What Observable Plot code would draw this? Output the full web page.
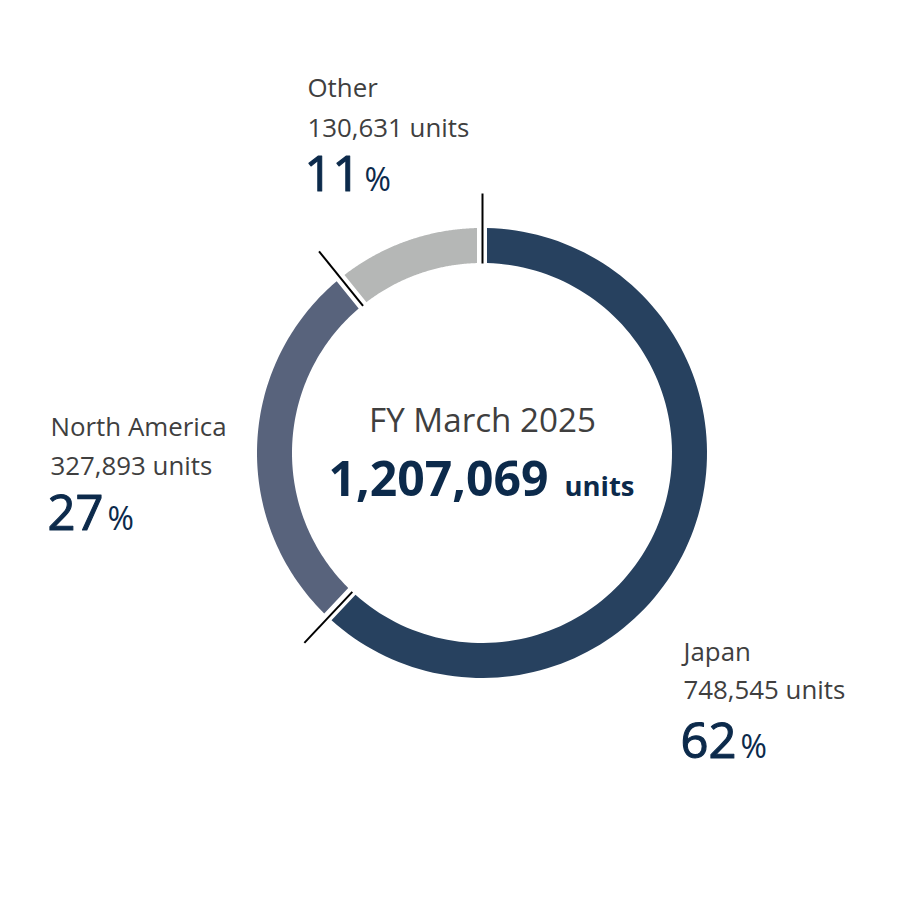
<!DOCTYPE html>
<html>
<head>
<meta charset="utf-8">
<script src="https://cdn.jsdelivr.net/npm/d3@7"></script>
<script src="https://cdn.jsdelivr.net/npm/@observablehq/plot@0.6"></script>
<style>
  html, body { margin: 0; padding: 0; background: #fff; }
  #chart { width: 908px; height: 908px; }
</style>
</head>
<body>
<div id="chart"></div>
<script>
// ---- Data ----
const regions = ["Japan", "North America", "Other"];
const units = [748545, 327893, 130631];
const shares = [62, 27, 11];
const totalUnits = 1207069;
const periodLabel = "FY March 2025";
const colors = ["#27415f", "#58637c", "#b5b7b6"];

// ---- Layout ----
const W = 908, H = 908;
const cx = 482, cy = 453;
const rInner = 190, rOuter = 225;
const halfGap = 5;
const tickIn = 190, tickOut = 260;
const FONT = "'Open Sans', 'Noto Sans', sans-serif";
const gray = "#3f3f3f", navy = "#0c2a4b";

const fmt = d3.format(",");
const pie = d3.pie().sort(null).value(d => d.units);
const rows = regions.map((r, i) => ({region: r, units: units[i], share: shares[i]}));
const arcs = pie(rows);

// ring polygons (outer edge / inner edge) for Plot.area
const ring = [];
for (const a of arcs) {
  const n = 120;
  const ao0 = a.startAngle + halfGap / rOuter, ao1 = a.endAngle - halfGap / rOuter;
  const ai0 = a.startAngle + halfGap / rInner, ai1 = a.endAngle - halfGap / rInner;
  for (let k = 0; k <= n; k++) {
    const t = k / n;
    const ao = ao0 + (ao1 - ao0) * t, ai = ai0 + (ai1 - ai0) * t;
    ring.push({
      region: a.data.region,
      xo: cx + rOuter * Math.sin(ao), yo: cy - rOuter * Math.cos(ao),
      xi: cx + rInner * Math.sin(ai), yi: cy - rInner * Math.cos(ai)
    });
  }
}

// boundary ticks
const ticks = arcs.map(a => a.startAngle).map(b => ({
  x1: cx + tickIn * Math.sin(b), y1: cy - tickIn * Math.cos(b),
  x2: cx + tickOut * Math.sin(b), y2: cy - tickOut * Math.cos(b)
}));

// text measurement / fitting
const ctx = document.createElement("canvas").getContext("2d");
function tw(s, size, weight) { ctx.font = `${weight} ${size}px ${FONT}`; return ctx.measureText(s).width; }
function fit(s, target, weight) { return 40 * target / tw(s, 40, weight); }

const labelSize = fit("130,631 units", 162, 400);
const pctWeight = 400;
const pctSize = fit("62", 56, pctWeight);
const pctSignSize = 32;
const periodSize = fit(periodLabel, 227, 400);
const totSize = fit(fmt(totalUnits), 220, 700);
const totUnitSize = fit("units", 70, 700);

const labelPos = {
  "Japan":         {x: 683, y: [660, 698, 757]},
  "North America": {x: 50,  y: [435, 474, 529]},
  "Other":         {x: 307, y: [96, 136, 190]}
};

const nameTexts = [], unitTexts = [], pctNums = [], pctSigns = [];
rows.forEach(d => {
  const p = labelPos[d.region];
  nameTexts.push({x: p.x, y: p.y[0], text: d.region});
  unitTexts.push({x: p.x, y: p.y[1], text: `${fmt(d.units)} units`});
  const num = String(d.share);
  pctNums.push({x: p.x - 3, y: p.y[2], text: num});
  pctSigns.push({x: p.x - 3 + tw(num, pctSize, pctWeight) + 4, y: p.y[2], text: "%"});
});

// centre label
const totalStr = fmt(totalUnits);
const totGap = 16;
const wNum = tw(totalStr, totSize, 700), wUnit = tw("units", totUnitSize, 700);
const totStart = 481 - (wNum + totGap + wUnit) / 2;

const textBase = {fontFamily: FONT, lineAnchor: "bottom", textAnchor: "start"};

const chart = Plot.plot({
  width: W, height: H, margin: 0,
  x: {domain: [0, W], range: [0, W], axis: null},
  y: {domain: [0, H], range: [0, H], axis: null},
  color: {domain: regions, range: colors},
  style: {background: "#fff", overflow: "visible"},
  marks: [
    Plot.area(ring, {x1: "xo", y1: "yo", x2: "xi", y2: "yi", z: "region", fill: "region", curve: "linear"}),
    Plot.link(ticks, {x1: "x1", y1: "y1", x2: "x2", y2: "y2", stroke: "#000", strokeWidth: 2}),
    Plot.text(nameTexts, {...textBase, x: "x", y: "y", text: "text", fontSize: labelSize, fill: gray}),
    Plot.text(unitTexts, {...textBase, x: "x", y: "y", text: "text", fontSize: labelSize, fill: gray}),
    Plot.text(pctNums, {...textBase, x: "x", y: "y", text: "text", fontSize: pctSize, fontWeight: pctWeight, fill: navy, stroke: navy, strokeWidth: 1.1, paintOrder: "fill"}),
    Plot.text(pctSigns, {...textBase, x: "x", y: "y", text: "text", fontSize: pctSignSize, fill: navy}),
    Plot.text([periodLabel], {...textBase, x: () => 482, y: () => 431, text: d => d, textAnchor: "middle", fontSize: periodSize, fill: gray}),
    Plot.text([totalStr], {...textBase, x: () => totStart, y: () => 495, text: d => d, fontSize: totSize, fontWeight: 700, fill: navy}),
    Plot.text(["units"], {...textBase, x: () => totStart + wNum + totGap, y: () => 495, text: d => d, fontSize: totUnitSize, fontWeight: 700, fill: navy})
  ]
});
document.getElementById("chart").appendChild(chart);
</script>
</body>
</html>
